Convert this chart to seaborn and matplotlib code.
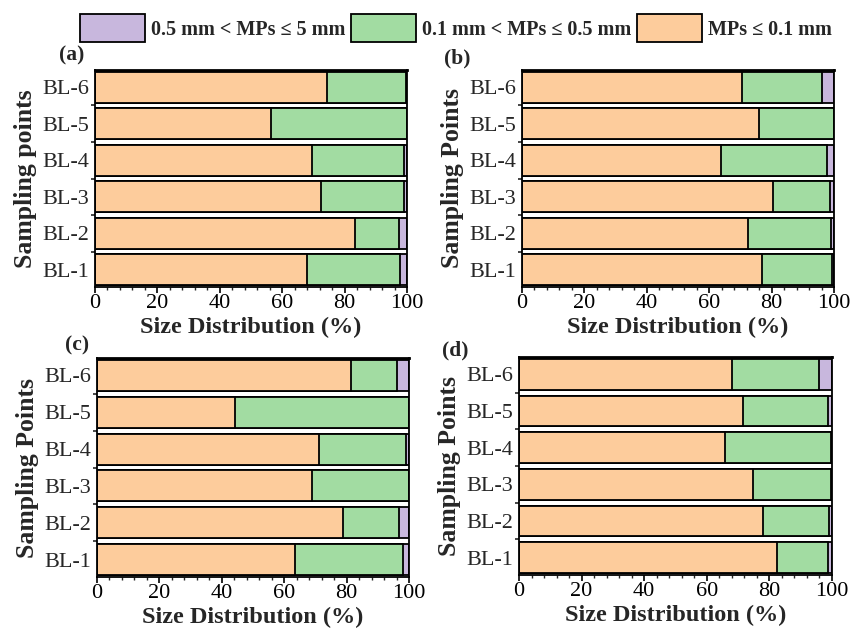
import matplotlib
matplotlib.use("Agg")
import matplotlib.pyplot as plt
from matplotlib.patches import Patch
from matplotlib.ticker import MultipleLocator, FixedLocator
import numpy as np
import seaborn as sns

sites = ["BL-1", "BL-2", "BL-3", "BL-4", "BL-5", "BL-6"]

# Size fractions (%) per sampling point, BL-1 .. BL-6
fine_a = [67.9, 83.4, 72.5, 69.5, 56.5, 74.5]
mid_a = [30.0, 13.9, 26.4, 29.6, 43.5, 25.3]
coarse_a = [2.1, 2.7, 1.1, 0.9, 0.0, 0.2]

fine_b = [77.0, 72.3, 80.5, 63.8, 75.9, 70.6]
mid_b = [22.4, 26.6, 18.3, 34.0, 24.1, 25.7]
coarse_b = [0.6, 1.1, 1.2, 2.2, 0.0, 3.7]

fine_c = [63.4, 78.8, 68.8, 71.3, 44.3, 81.4]
mid_c = [34.8, 18.0, 31.2, 27.8, 55.7, 14.8]
coarse_c = [1.8, 3.2, 0.0, 0.9, 0.0, 3.8]

fine_d = [82.4, 77.8, 74.9, 65.8, 71.7, 68.0]
mid_d = [16.2, 21.2, 24.8, 33.9, 27.0, 27.9]
coarse_d = [1.4, 1.0, 0.3, 0.3, 1.3, 4.1]

panel_tags = ["(a)", "(b)", "(c)", "(d)"]
y_titles = ["Sampling points", "Sampling Points", "Sampling Points", "Sampling Points"]
x_title = "Size Distribution (%)"
legend_labels = ["0.5 mm < MPs \u2264 5 mm", "0.1 mm < MPs \u2264 0.5 mm", "MPs \u2264 0.1 mm"]

c_coarse = "#C8B7DD"
c_mid = "#A2DCA2"
c_fine = "#FDCC9C"

sns.set_theme(style="white")
plt.rcParams["font.family"] = ["Liberation Serif", "DejaVu Serif"]
plt.rcParams["mathtext.fontset"] = "dejavuserif"

fig = plt.figure(figsize=(8.5, 6.29), dpi=100)
W, H = 850, 629

def px_axes(left, top, right, bottom):
    return fig.add_axes([left / W, 1 - bottom / H, (right - left) / W, (bottom - top) / H])

boxes = [(95, 70, 407, 287), (522, 70, 834, 287), (97, 358, 409, 577), (519, 357, 832, 575)]
tag_pos = [(72, 55), (457, 58), (77, 345), (455, 350)]
data = [(fine_a, mid_a, coarse_a), (fine_b, mid_b, coarse_b),
        (fine_c, mid_c, coarse_c), (fine_d, mid_d, coarse_d)]
order = sites[::-1]

for i, (box, (fine, mid, coarse)) in enumerate(zip(boxes, data)):
    ax = px_axes(*box)
    fine = np.array(fine)
    mid = np.array(mid)
    coarse = np.array(coarse)
    total = fine + mid + coarse
    # stacked bars: draw cumulative extents from the back to the front
    for vals, col in [(total, c_coarse), (fine + mid, c_mid), (fine, c_fine)]:
        sns.barplot(x=vals, y=sites, order=order, orient="h", color=col,
                    edgecolor="black", linewidth=1.3, width=0.84,
                    saturation=1, errorbar=None, ax=ax)
    ax.set_xlim(0, 100)
    ax.set_ylim(5.47, -0.47)
    ax.xaxis.set_major_locator(MultipleLocator(20))
    ax.xaxis.set_minor_locator(MultipleLocator(4))
    ax.yaxis.set_minor_locator(FixedLocator(np.arange(-0.5, 6.0, 1.0)))
    ax.tick_params(axis="x", which="major", direction="out", length=4, width=1.2,
                   labelsize=16, pad=1, bottom=True, colors="black")
    ax.tick_params(axis="x", which="minor", direction="out", length=2.5, width=1,
                   bottom=True)
    ax.tick_params(axis="y", which="major", length=0, labelsize=16, pad=4)
    ax.tick_params(axis="y", which="minor", direction="out", length=3, width=1.2,
                   left=True)
    for s in ax.spines.values():
        s.set_color("black")
        s.set_linewidth(1.3)
    ax.spines["top"].set_linewidth(2.0)
    ax.set_xlabel(x_title, fontsize=17.5, fontweight="bold", labelpad=3)
    ax.set_ylabel(y_titles[i], fontsize=18.5, fontweight="bold", labelpad=4)
    fig.text(tag_pos[i][0] / W, 1 - tag_pos[i][1] / H, panel_tags[i],
             fontsize=15.5, fontweight="bold", ha="center", va="center")

handles = [Patch(facecolor=c, edgecolor="black", linewidth=1.3)
           for c in (c_coarse, c_mid, c_fine)]
fig.legend(handles, legend_labels, loc="center", bbox_to_anchor=(456 / W, 1 - 28 / H),
           ncol=3, frameon=False, handlelength=3.2, handleheight=1.7,
           handletextpad=0.3, columnspacing=0.3,
           prop={"size": 14.5, "weight": "bold"})

fig.savefig("out.png", dpi=100, facecolor="white")
